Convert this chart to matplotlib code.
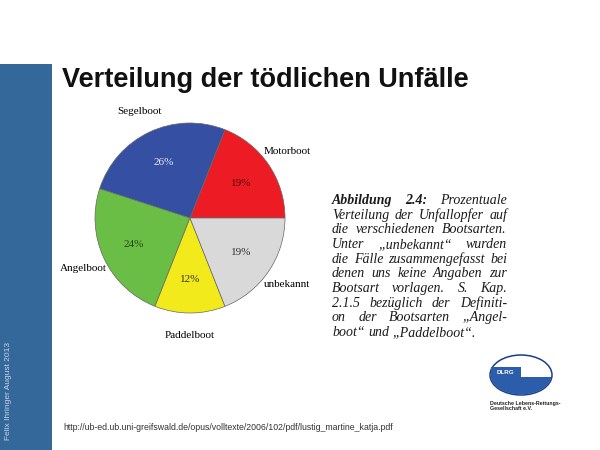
import matplotlib
matplotlib.use('Agg')
import matplotlib.pyplot as plt
from matplotlib.patches import Rectangle, Ellipse

# Daten
boote = ['Motorboot', 'Segelboot', 'Angelboot', 'Paddelboot', 'unbekannt']
anteile = [19, 26, 24, 12, 19]
farben = ['#ED1C24', '#3550A3', '#6ABD45', '#F2EA1A', '#D9D9D9']
pct_farben = ['#5A0A0A', '#E8E8F4', '#1E4A12', '#333333', '#333333']

titel = 'Verteilung der tödlichen Unfälle'
caption_zeilen = [
    [('Abbildung', 'bold'), ('2.4:', 'bold'), ('Prozentuale', 'normal')],
    'Verteilung der Unfallopfer auf',
    'die verschiedenen Bootsarten.',
    'Unter „unbekannt“ wurden',
    'die Fälle zusammengefasst bei',
    'denen uns keine Angaben zur',
    'Bootsart vorlagen. S. Kap.',
    '2.1.5 bezüglich der Definiti-',
    'on der Bootsarten „Angel-',
    'boot“ und „Paddelboot“.',
]
quelle = 'http://ub-ed.ub.uni-greifswald.de/opus/volltexte/2006/102/pdf/lustig_martine_katja.pdf'
autor = 'Felix Ihringer August 2013'


def draw_slide(fig):
    bg = fig.add_axes([0, 0, 1, 1])
    bg.set_xlim(0, 600)
    bg.set_ylim(450, 0)
    bg.axis('off')

    # blauer Balken links
    bg.add_patch(Rectangle((0, 64), 52, 386, color='#34679A', lw=0))
    bg.text(9, 440, autor, rotation=90, ha='center', va='bottom', fontsize=6,
            color='#C9D6E6', family='Liberation Sans')

    bg.text(62, 87, titel, fontsize=19.5, weight='bold', family='Liberation Sans',
            color='#111111', va='baseline')
    bg.text(63, 427, quelle, fontsize=6.3, family='Liberation Sans', color='#333333',
            va='center')

    # DLRG Logo (vereinfacht)
    bg.add_patch(Ellipse((521, 375), 62, 40, facecolor='white', edgecolor='#1B3C8C', lw=1.1))
    unten = Ellipse((521, 375), 61, 39, facecolor='#2C5DAA', lw=0)
    bg.add_patch(unten)
    clip = Rectangle((489, 377), 66, 20, transform=bg.transData)
    unten.set_clip_path(clip)
    bg.add_patch(Rectangle((491, 367), 30, 10, color='#2C5DAA', lw=0))
    bg.text(505, 372.5, 'DLRG', fontsize=4.5, weight='bold', color='white',
            ha='center', va='center', family='Liberation Sans')
    bg.text(490, 403, 'Deutsche Lebens-Rettungs-', fontsize=3.8, weight='bold',
            color='#222222', family='Liberation Sans', va='center')
    bg.text(490, 409, 'Gesellschaft e.V.', fontsize=3.8, weight='bold',
            color='#222222', family='Liberation Sans', va='center')
    return bg


def draw_pie(fig):
    cx, cy, r = 190, 218, 95
    ax = fig.add_axes([(cx - r) / 600, 1 - (cy + r) / 450, 2 * r / 600, 2 * r / 450])
    wedges, labels, pcts = ax.pie(anteile, labels=boote, colors=farben, startangle=0,
                                  counterclock=True, labeldistance=1.24, pctdistance=0.65,
                                  autopct='%.0f%%',
                                  wedgeprops=dict(edgecolor='#666666', linewidth=0.5),
                                  textprops=dict(family='Liberation Serif', fontsize=8))
    for t in labels:
        t.set_ha('center')
        t.set_va('center')
    for t, c in zip(pcts, pct_farben):
        t.set_color(c)
    ax.set_xlim(-1, 1)
    ax.set_ylim(-1, 1)


def draw_caption(fig, bg):
    renderer = fig.canvas.get_renderer()
    x0, x1 = 332, 507
    y0, dy = 204, 14.67
    for i, zeile in enumerate(caption_zeilen):
        if isinstance(zeile, str):
            woerter = [(w, 'normal') for w in zeile.split(' ')]
        else:
            woerter = zeile
        texte = []
        for w, wt in woerter:
            t = bg.text(0, y0 + i * dy, w, fontsize=10.0, family='Liberation Serif',
                        style='italic', weight=wt, color='#1A1A1A', va='baseline')
            texte.append(t)
        breiten = [t.get_window_extent(renderer).width for t in texte]
        if i == len(caption_zeilen) - 1:
            luecke = 3.5
        else:
            luecke = (x1 - x0 - sum(breiten)) / (len(texte) - 1)
        x = x0
        for t, b in zip(texte, breiten):
            t.set_x(x)
            x += b + luecke


def main():
    fig = plt.figure(figsize=(6, 4.5), dpi=100)
    bg = draw_slide(fig)
    draw_pie(fig)
    fig.canvas.draw()
    draw_caption(fig, bg)
    fig.savefig('out.png', dpi=100)


if __name__ == '__main__':
    main()
